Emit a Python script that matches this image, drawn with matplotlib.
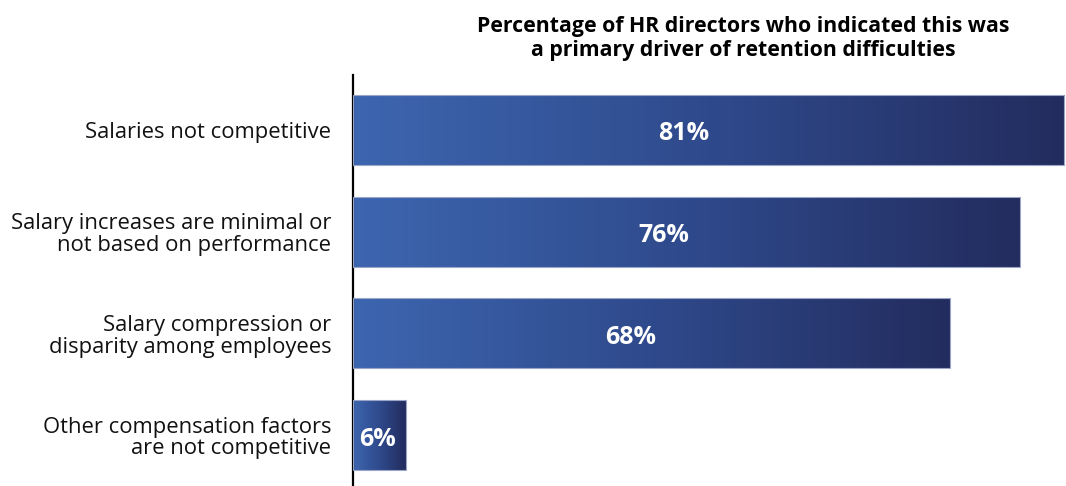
import matplotlib
matplotlib.use("Agg")
import matplotlib.pyplot as plt
import numpy as np
from matplotlib.colors import LinearSegmentedColormap

plt.rcParams["font.family"] = ["Open Sans", "DejaVu Sans"]

categories = [
    "Salaries not competitive",
    "Salary increases are minimal or\nnot based on performance",
    "Salary compression or\ndisparity among employees",
    "Other compensation factors\nare not competitive",
]
values = [81, 76, 68, 6]
title = ("Percentage of HR directors who indicated this was\n"
         "a primary driver of retention difficulties")

grad = LinearSegmentedColormap.from_list("bar_grad", ["#3d66b0", "#2f4a8c", "#232c5e"])

fig = plt.figure(figsize=(10.66, 4.86), dpi=100)
ax = fig.add_axes([0.3311, 0.0, 0.669, 0.8457])

ypos = np.arange(len(values))
bars = ax.barh(ypos, values, height=0.69, color="none",
               edgecolor="#9aa5c8", linewidth=0.8, zorder=3)

# fill every bar with its own left-to-right gradient
ramp = np.linspace(0, 1, 256).reshape(1, -1)
for rect, v in zip(bars, values):
    y0 = rect.get_y()
    h = rect.get_height()
    im = ax.imshow(ramp, cmap=grad, aspect="auto", interpolation="bilinear",
                   extent=(0, v, y0 + h, y0), zorder=2)
    im.set_clip_path(rect)
    # value label sits a little left of the bar's midpoint
    ax.text(v * 0.465, y0 + h / 2 + 0.04, f"{v}%", color="white",
            fontsize=18, fontweight="bold", ha="center", va="center", zorder=4)

ax.set_xlim(0, 81.2)
ax.set_ylim(3.5, -0.54)
ax.set_yticks(ypos)
ax.set_yticklabels(categories, fontsize=15.8, color="#111111", linespacing=1.05)
ax.tick_params(axis="y", length=0, pad=15.5)
ax.set_xticks([])
for side in ["top", "right", "bottom"]:
    ax.spines[side].set_visible(False)
ax.spines["left"].set_linewidth(1.6)
ax.spines["left"].set_color("black")

fig.text(0.697, 0.921, title, ha="center", va="center", fontsize=15.3,
         fontweight="bold", color="black", linespacing=1.2)

fig.savefig("out.png", dpi=100)
